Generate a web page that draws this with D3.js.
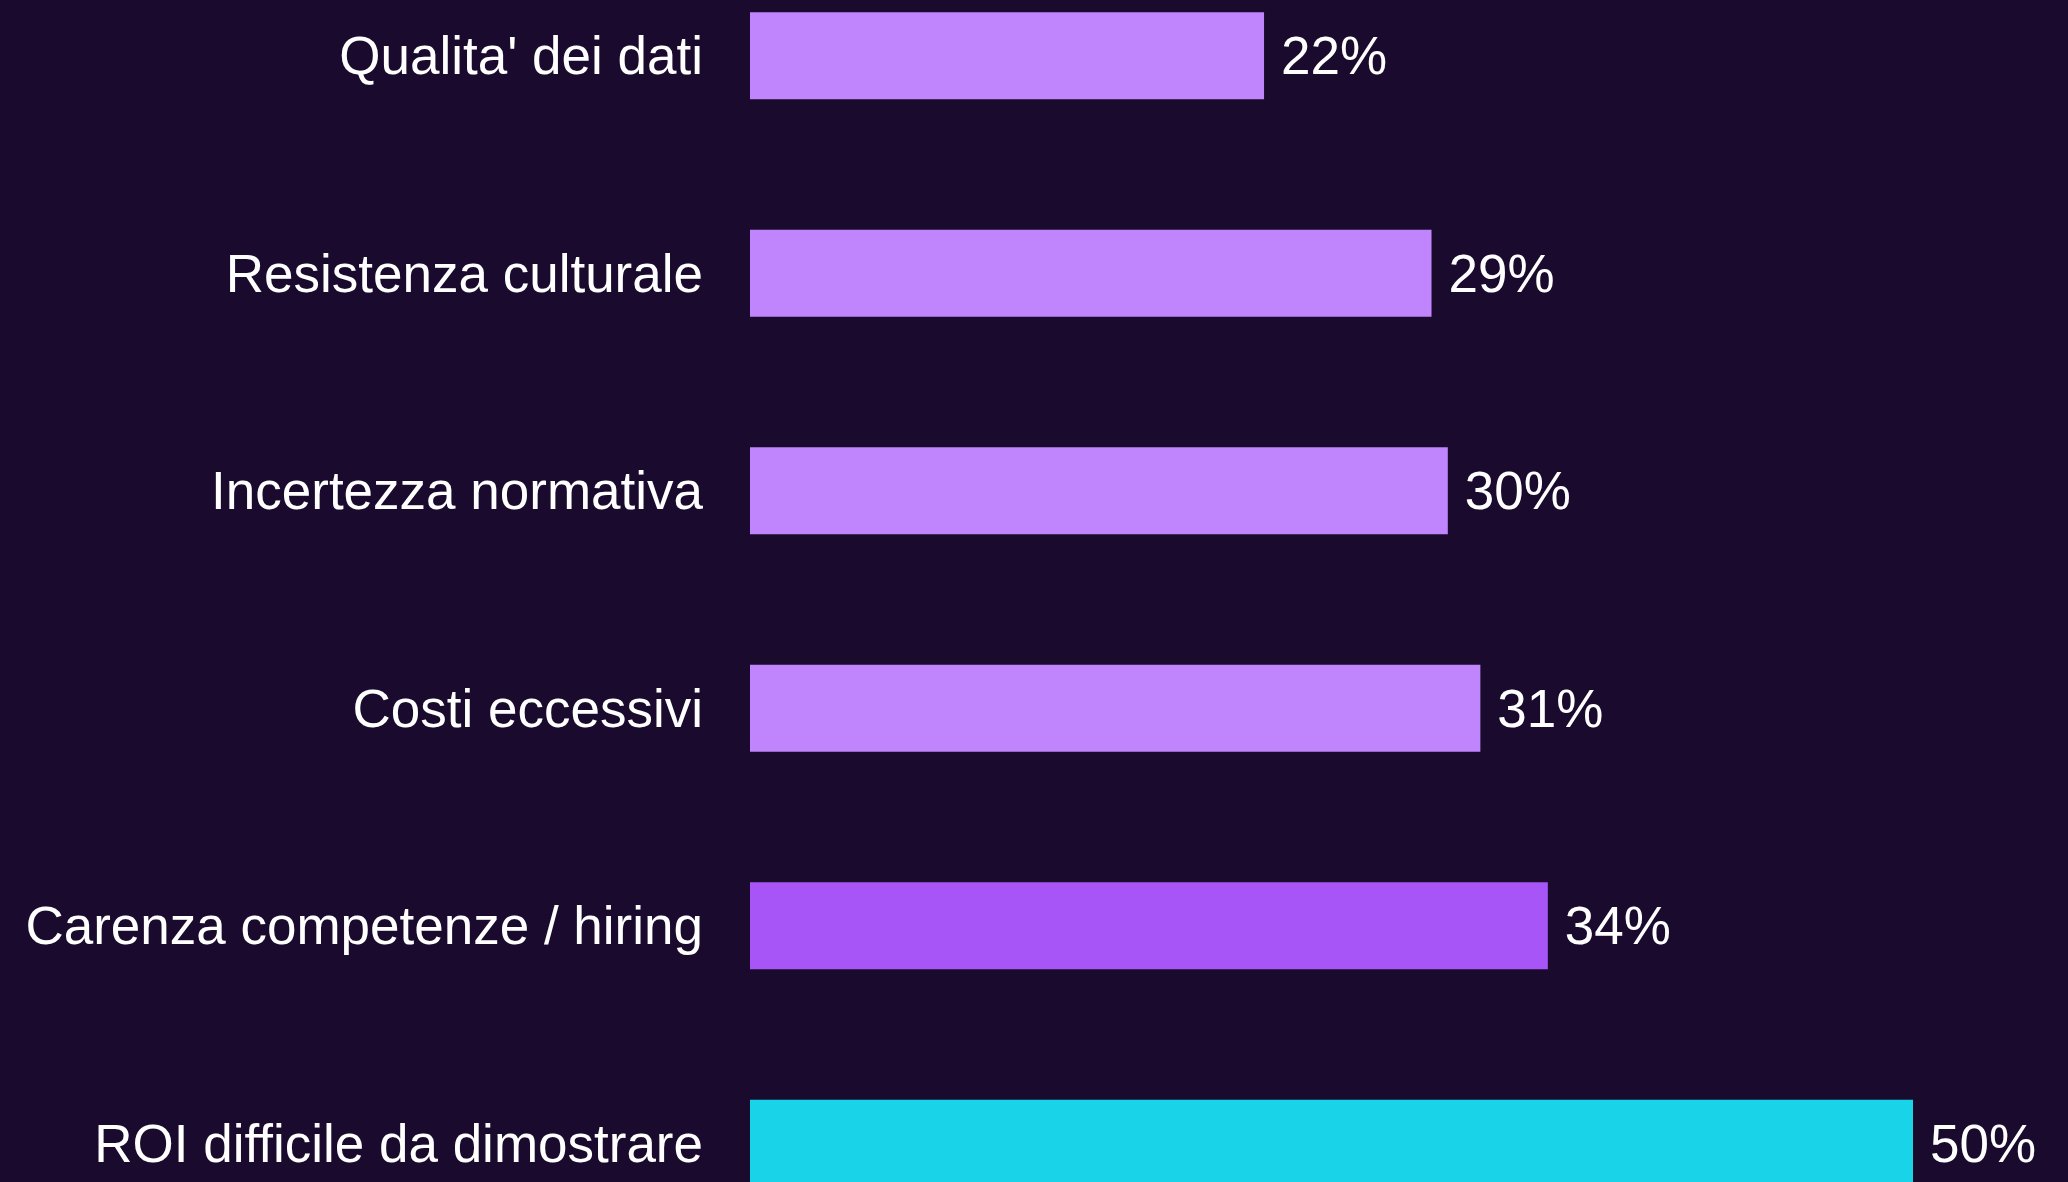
<!DOCTYPE html>
<html>
<head>
<meta charset="utf-8">
<script src="https://cdn.jsdelivr.net/npm/d3@7"></script>
<style>
  html, body { margin: 0; padding: 0; background: #1a0b2e; overflow: hidden; }
  svg { display: block; }
</style>
</head>
<body>
<div id="chart"></div>
<script>
// Barriers to adoption (%), top to bottom
const categories = [
    "Qualita' dei dati",
    "Resistenza culturale",
    "Incertezza normativa",
    "Costi eccessivi",
    "Carenza competenze / hiring",
    "ROI difficile da dimostrare"
];
const values = [22.1, 29.3, 30.0, 31.4, 34.3, 50.0];
const barColors = ["#c084fc", "#c084fc", "#c084fc", "#c084fc", "#a855f7", "#19d3e8"];

const width = 2068;
const height = 1182;

const svg = d3.select("#chart")
    .append("svg")
    .attr("width", width)
    .attr("height", height)
    .attr("viewBox", [0, 0, width, height]);

svg.append("rect")
    .attr("width", width)
    .attr("height", height)
    .attr("fill", "#1a0b2e");

// plot area runs past the bottom edge, as in the original
const x = d3.scaleLinear()
    .domain([0, 50])
    .range([750, 1913]);

const y = d3.scaleBand()
    .domain(categories)
    .range([-53, 1252])
    .paddingInner(0.6)
    .paddingOuter(0.3);

const rows = categories.map((c, i) => ({ name: c, value: values[i], color: barColors[i] }));

// Bars
svg.append("g")
    .selectAll("rect")
    .data(rows)
    .join("rect")
    .attr("x", x(0))
    .attr("y", d => y(d.name))
    .attr("width", d => x(d.value) - x(0))
    .attr("height", y.bandwidth())
    .attr("fill", d => d.color);

// Category labels
svg.append("g")
    .style("font", "53px 'Liberation Sans', Arial, sans-serif")
    .style("fill", "#ffffff")
    .selectAll("text")
    .data(rows)
    .join("text")
    .attr("x", x(0) - 47)
    .attr("y", d => y(d.name) + y.bandwidth() / 2)
    .attr("dy", "0.35em")
    .attr("text-anchor", "end")
    .text(d => d.name);

// Value labels
svg.append("g")
    .style("font", "53px 'Liberation Sans', Arial, sans-serif")
    .style("fill", "#ffffff")
    .selectAll("text")
    .data(rows)
    .join("text")
    .attr("x", d => x(d.value) + 17)
    .attr("y", d => y(d.name) + y.bandwidth() / 2)
    .attr("dy", "0.35em")
    .attr("text-anchor", "start")
    .text(d => Math.round(d.value) + "%");
</script>
</body>
</html>
